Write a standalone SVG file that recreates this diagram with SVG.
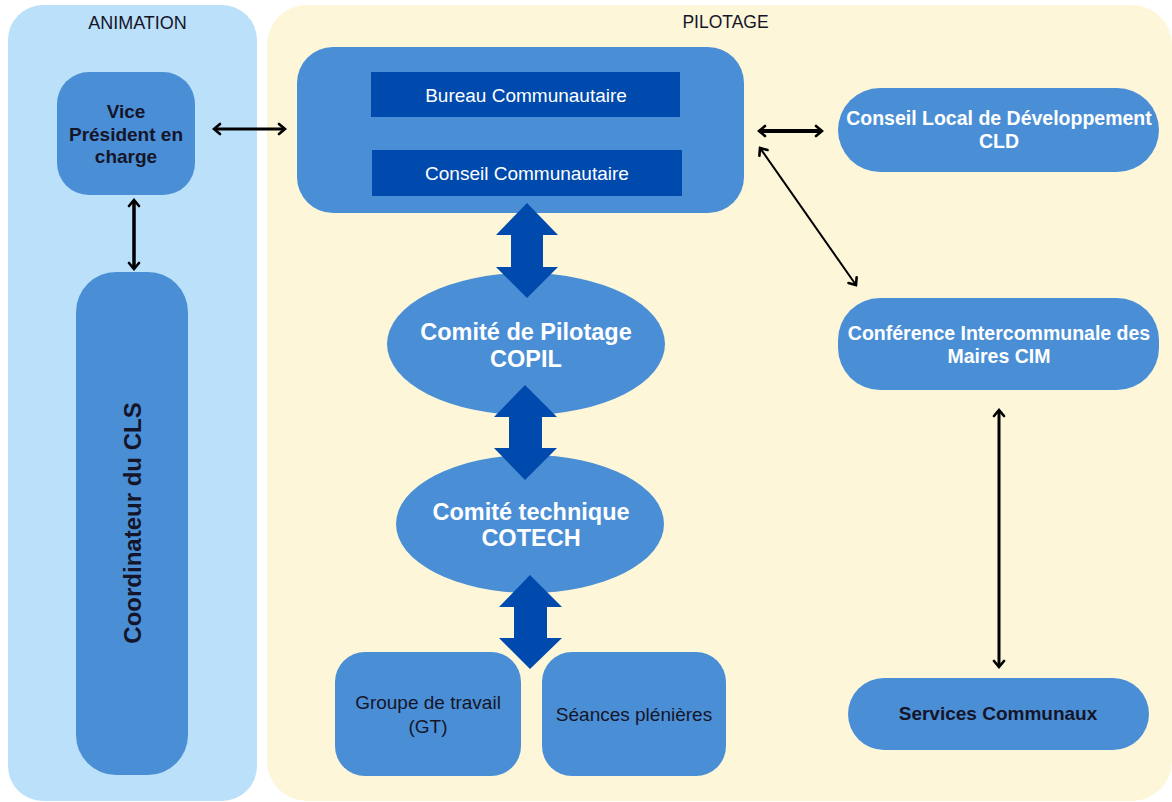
<svg xmlns="http://www.w3.org/2000/svg" width="1172" height="802" viewBox="0 0 1172 802">
<defs>
<style>
.node{fill:#4A8FD6}
.dark{fill:#004AAD}
.t{font-family:"Liberation Sans",Arial,sans-serif;text-anchor:middle}
.b{font-weight:bold}
.w{fill:#ffffff}
.k{fill:#15152a}
.con{stroke:#000;fill:none}
</style>
<marker id="ah" viewBox="-9 -7 11 14" refX="0" refY="0" markerWidth="11" markerHeight="14" markerUnits="userSpaceOnUse" orient="auto-start-reverse">
<path d="M-6,-5 L0,0 L-6,5" fill="none" stroke="#000" stroke-width="2.6" stroke-linecap="round" stroke-linejoin="miter"/>
</marker>
</defs>
<rect width="1172" height="802" fill="#ffffff"/>
<g id="panel-animation">
<rect x="8" y="5" width="249" height="796" rx="35" fill="#BBE0FA"/>
<text class="t k" x="137.5" y="29" font-size="18">ANIMATION</text>
</g>
<g id="panel-pilotage">
<rect x="267" y="5" width="905" height="796" rx="40" fill="#FDF6D8"/>
<text class="t k" x="725.5" y="28" font-size="17.5">PILOTAGE</text>
</g>
<g id="vice-president">
<rect class="node" x="57" y="72" width="138" height="123" rx="32"/>
<text class="t b k" x="126" y="118" font-size="19">Vice</text>
<text class="t b k" x="126" y="141" font-size="19">Président en</text>
<text class="t b k" x="126" y="163" font-size="19">charge</text>
</g>
<g id="coordinateur">
<rect class="node" x="76" y="272" width="112" height="503" rx="40"/>
<text class="t b k" x="0" y="0" font-size="24" transform="translate(141,523) rotate(-90)">Coordinateur du CLS</text>
</g>
<g id="bureau-conseil">
<rect class="node" x="297" y="47" width="447" height="166" rx="36"/>
<rect class="dark" x="371" y="72" width="309" height="45"/>
<text class="t w" x="526" y="102" font-size="19">Bureau Communautaire</text>
<rect class="dark" x="372" y="150" width="310" height="46"/>
<text class="t w" x="527" y="180" font-size="19">Conseil Communautaire</text>
</g>
<g id="cld">
<rect class="node" x="838" y="88" width="321" height="84" rx="42"/>
<text class="t b w" x="999" y="125" font-size="19.5">Conseil Local de Développement</text>
<text class="t b w" x="999" y="148" font-size="19.5">CLD</text>
</g>
<g id="cim">
<rect class="node" x="838" y="298" width="321" height="92" rx="42"/>
<text class="t b w" x="999" y="340" font-size="19.5">Conférence Intercommunale des</text>
<text class="t b w" x="999" y="363" font-size="19.5">Maires CIM</text>
</g>
<g id="copil">
<ellipse class="node" cx="526" cy="344" rx="139" ry="71"/>
<text class="t b w" x="526" y="340" font-size="23.5">Comité de Pilotage</text>
<text class="t b w" x="526" y="367" font-size="23.5">COPIL</text>
</g>
<g id="cotech">
<ellipse class="node" cx="530" cy="524" rx="134" ry="69"/>
<text class="t b w" x="531" y="520" font-size="23.5">Comité technique</text>
<text class="t b w" x="531" y="546" font-size="23.5">COTECH</text>
</g>
<g id="groupe-travail">
<rect class="node" x="335" y="652" width="186" height="124" rx="30"/>
<text class="t k" x="428" y="709" font-size="19">Groupe de travail</text>
<text class="t k" x="428" y="733" font-size="19">(GT)</text>
</g>
<g id="seances">
<rect class="node" x="542" y="652" width="184" height="124" rx="30"/>
<text class="t k" x="634" y="721" font-size="19">Séances plénières</text>
</g>
<g id="services">
<rect class="node" x="848" y="678" width="301" height="72" rx="36"/>
<text class="t b k" x="998" y="720" font-size="19">Services Communaux</text>
</g>
<g id="connectors">
<polygon class="dark" points="527,203 558,235 543,235 543,267 558,267 527,298 496,267 511,267 511,235 496,235"/>
<polygon class="dark" points="525,385 557,417 542,417 542,448 557,448 525,480 494,448 509,448 509,417 494,417"/>
<polygon class="dark" points="530,575 562,607 547,607 547,638 562,638 530,669 499,638 514,638 514,607 499,607"/>
<line class="con" x1="214" y1="129" x2="285" y2="129" stroke-width="3" marker-start="url(#ah)" marker-end="url(#ah)"/>
<line class="con" x1="134" y1="200" x2="134" y2="269" stroke-width="3.5" marker-start="url(#ah)" marker-end="url(#ah)"/>
<line class="con" x1="759" y1="131" x2="822" y2="131" stroke-width="4" marker-start="url(#ah)" marker-end="url(#ah)"/>
<line class="con" x1="760" y1="148" x2="856" y2="285" stroke-width="2" marker-start="url(#ah)" marker-end="url(#ah)"/>
<line class="con" x1="999" y1="410" x2="999" y2="667" stroke-width="3" marker-start="url(#ah)" marker-end="url(#ah)"/>
</g>
</svg>
